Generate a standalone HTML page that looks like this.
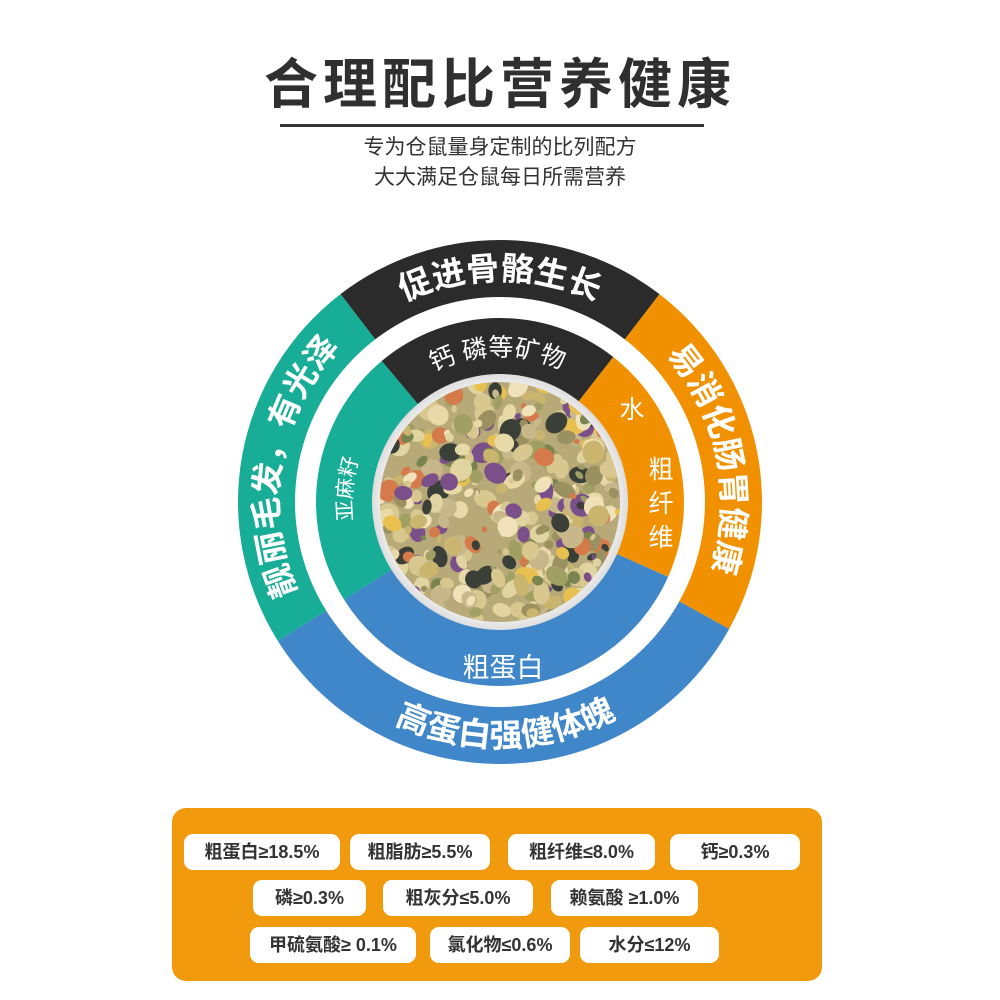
<!DOCTYPE html>
<html><head><meta charset="utf-8"><style>
body{margin:0;width:1000px;height:1000px;background:#fff;font-family:"Liberation Sans","Noto Sans CJK SC",sans-serif;position:relative;overflow:hidden}
.t{position:absolute;left:0;width:1000px;text-align:center;color:#333}
.box{position:absolute;left:172px;top:808px;width:650px;height:173px;background:#f29a0e;border-radius:14px}
.p{position:absolute;height:36px;background:#fff;border-radius:9px;font-size:18px;line-height:36px;text-align:center;color:#333;font-weight:bold}
</style></head><body>
<div class="t" style="top:40px;font-size:54px;font-weight:bold;letter-spacing:5px;color:#2f2f2f">合理配比营养健康</div>
<div style="position:absolute;left:280px;top:124px;width:424px;height:3px;background:#333"></div>
<div class="t" style="top:133px;font-size:21px;line-height:30px">专为仓鼠量身定制的比列配方<br>大大满足仓鼠每日所需营养</div>
<svg width="1000" height="1000" style="position:absolute;left:0;top:0">
<defs>
<path id="oTop" d="M357.3,331.9 A222,222 0 0 1 642.7,331.9"/>
<path id="oRight" d="M635.2,325.9 A222,222 0 0 1 694.2,609.6"/>
<path id="oBot" d="M292.2,631.8 A245,245 0 0 0 714.3,620.8"/>
<path id="oLeft" d="M318.1,629.3 A222,222 0 0 1 372.7,320.1"/>
<path id="iTop" d="M406.2,390.2 A146,146 0 0 1 589.9,386.9"/>
<path id="iLeft" d="M378.8,586.9 A148,148 0 0 1 395.3,397.3"/>
<clipPath id="cp"><circle cx="500" cy="502" r="120"/></clipPath>
<radialGradient id="rg"><stop offset="0.85" stop-color="#fff"/><stop offset="1" stop-color="#ddd"/></radialGradient>
</defs>
<g id="segs"></g>
<circle cx="500" cy="502" r="128" fill="url(#rg)"/>
<circle cx="500" cy="502" r="120" fill="#b8aa78"/>
<g id="spots" clip-path="url(#cp)"></g>
<g fill="#fff" font-weight="bold" font-size="33" font-family="Liberation Sans, Noto Sans CJK SC, sans-serif">
<text text-anchor="middle"><textPath href="#oTop" startOffset="50%">促进骨骼生长</textPath></text>
<text text-anchor="middle"><textPath href="#oLeft" startOffset="50%">靓丽毛发，有光泽</textPath></text>
<text text-anchor="middle"><textPath href="#oRight" startOffset="50%">易消化肠胃健康</textPath></text>
<text text-anchor="middle"><textPath href="#oBot" startOffset="50%">高蛋白强健体魄</textPath></text>
</g>
<g fill="#fff" font-size="25" font-family="Liberation Sans, Noto Sans CJK SC, sans-serif">
<text text-anchor="middle"><textPath href="#iTop" startOffset="50%">钙  磷等矿物</textPath></text>
<text text-anchor="middle" font-size="21"><textPath href="#iLeft" startOffset="50%">亚麻籽</textPath></text>
<text x="632" y="418" text-anchor="middle">水</text>
<text x="661" y="478" text-anchor="middle">粗</text>
<text x="661" y="512" text-anchor="middle">纤</text>
<text x="661" y="546" text-anchor="middle">维</text>
<text x="503" y="677" text-anchor="middle" font-size="27">粗蛋白</text>
</g>
</svg>
<div class="box"></div>
<div class="p" style="left:184px;top:834px;width:156px">粗蛋白≥18.5%</div>
<div class="p" style="left:350px;top:834px;width:140px">粗脂肪≥5.5%</div>
<div class="p" style="left:508px;top:834px;width:147px">粗纤维≤8.0%</div>
<div class="p" style="left:670px;top:834px;width:130px">钙≥0.3%</div>
<div class="p" style="left:253px;top:880px;width:113px">磷≥0.3%</div>
<div class="p" style="left:383px;top:880px;width:150px">粗灰分≤5.0%</div>
<div class="p" style="left:551px;top:880px;width:147px">赖氨酸 ≥1.0%</div>
<div class="p" style="left:250px;top:927px;width:166px">甲硫氨酸≥ 0.1%</div>
<div class="p" style="left:430px;top:927px;width:140px">氯化物≤0.6%</div>
<div class="p" style="left:580px;top:927px;width:139px">水分≤12%</div>
<script>
var cx=500,cy=502;
function pt(r,a){a=a*Math.PI/180;return [(cx+r*Math.sin(a)).toFixed(2),(cy-r*Math.cos(a)).toFixed(2)];}
function sec(r1,r2,a1,a2){var l=(a2-a1)>180?1:0;var p1=pt(r2,a1),p2=pt(r2,a2),p3=pt(r1,a2),p4=pt(r1,a1);
return "M"+p1+"A"+r2+","+r2+" 0 "+l+" 1 "+p2+"L"+p3+"A"+r1+","+r1+" 0 "+l+" 0 "+p4+"Z";}
var h="";
[[-37.5,37.5,'#2b2b2b'],[37.5,119,'#f29100'],[119,238,'#3f87c9'],[238,322.5,'#17ad97']].forEach(function(s){h+='<path fill="'+s[2]+'" d="'+sec(205,262,s[0],s[1])+'"/>';});
[[-40,38,'#2b2b2b'],[38,114,'#f29100'],[114,238,'#3f87c9'],[238,320,'#17ad97']].forEach(function(s){h+='<path fill="'+s[2]+'" d="'+sec(126,184,s[0],s[1])+'"/>';});
document.getElementById('segs').innerHTML=h;
var seed=7;function rnd(){seed=(seed*16807)%2147483647;return seed/2147483647;}
var cols=['#d8c890','#c9b56e','#a0a064','#e8d9a8','#7a8450','#3a3f38','#e8c050','#7a4f8a','#d57a4a','#c7b78a','#f0e2b8','#9a9060','#e0d4a0','#d8c890'];
var sh="";for(var i=0;i<450;i++){var x=380+rnd()*240,y=382+rnd()*240,r=3+rnd()*9,c=cols[Math.floor(rnd()*cols.length)];
sh+='<ellipse cx="'+x.toFixed(1)+'" cy="'+y.toFixed(1)+'" rx="'+r.toFixed(1)+'" ry="'+(r*(0.6+rnd()*0.4)).toFixed(1)+'" fill="'+c+'" transform="rotate('+(rnd()*180).toFixed(0)+' '+x.toFixed(1)+' '+y.toFixed(1)+')"/>';}
document.getElementById('spots').innerHTML=sh;
</script>
</body></html>
